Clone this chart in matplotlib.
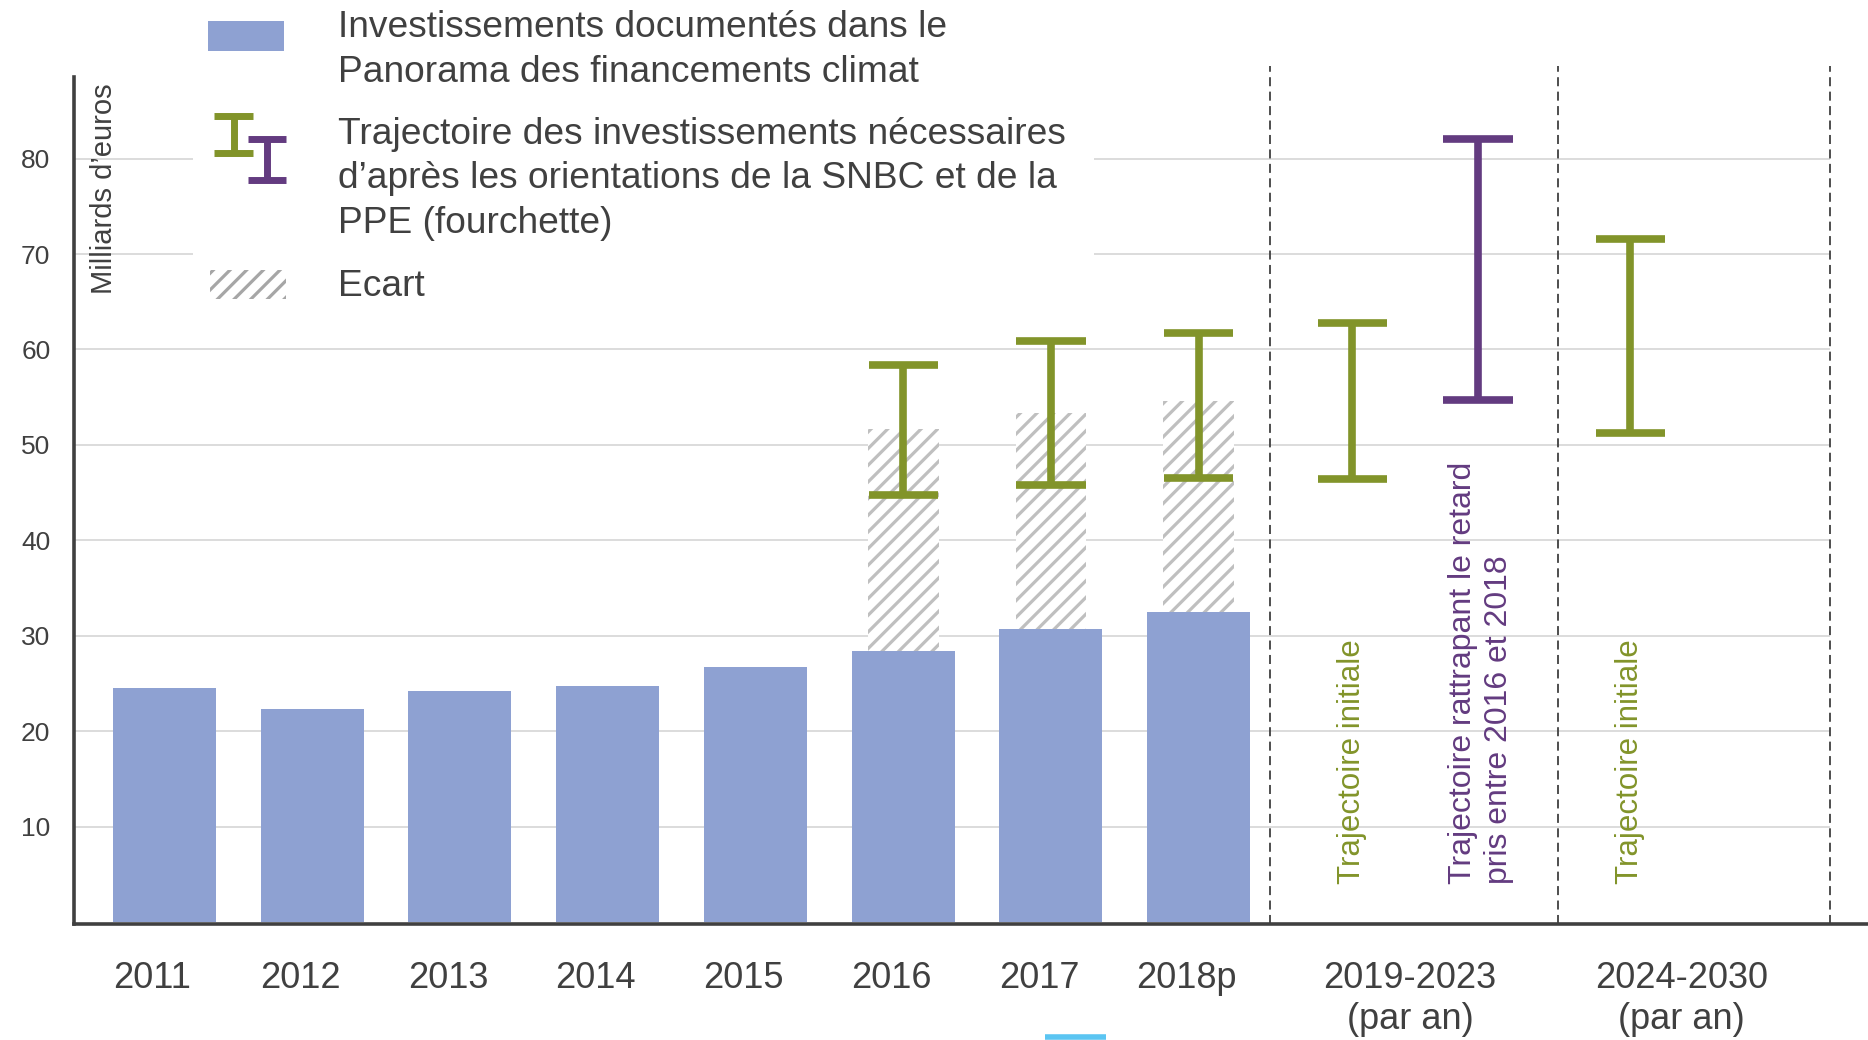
import numpy as np
import matplotlib
matplotlib.use("Agg")
from matplotlib import pyplot as plt
from matplotlib.patches import Rectangle
from matplotlib.lines import Line2D
from matplotlib.transforms import ScaledTranslation

plt.rcParams['font.family'] = ['Liberation Sans', 'DejaVu Sans']
plt.rcParams['hatch.color'] = '#BFBFBF'
plt.rcParams['hatch.linewidth'] = 2.3

# données
annees = ['2011', '2012', '2013', '2014', '2015', '2016', '2017', '2018p']
investissements = [24.5, 22.3, 24.2, 24.7, 26.7, 28.4, 30.7, 32.5]
annees_ecart = ['2016', '2017', '2018p']
ecart_haut = [51.7, 53.3, 54.6]
besoin_bas = [44.7, 45.8, 46.5]
besoin_haut = [58.4, 60.9, 61.7]
periodes = ['2019-2023\n(par an)', '2024-2030\n(par an)']
periode_bas = [46.4, 51.2]
periode_haut = [62.8, 71.6]
rattrapage_bas = [54.7]
rattrapage_haut = [82.0]
yticks = [10, 20, 30, 40, 50, 60, 70, 80]

bleu = '#8EA1D2'
vert = '#82942A'
violet = '#633B80'
gris = '#404040'
W, H = 1868, 1040

fig = plt.figure(figsize=(W / 100, H / 100), dpi=100)
ax = fig.add_axes([74 / W, 1 - 924 / H, 1 - 74 / W, (924 - 66) / H])
ax.set_xlim(-0.612, 11.53)
ax.set_ylim(-0.2, 89.7)

x = np.arange(len(annees))
ax.bar(x, investissements, width=0.697, color=bleu, zorder=3)

x_ecart = [annees.index(a) for a in annees_ecart]
inv_ecart = [investissements[i] for i in x_ecart]
ax.bar(x_ecart, np.array(ecart_haut) - np.array(inv_ecart), bottom=inv_ecart, width=0.479,
       color='white', hatch='//', edgecolor='#BFBFBF', linewidth=0, zorder=2)


def fourchette(xs, bas, haut, color):
    ax.vlines(xs, bas, haut, color=color, lw=5.5, zorder=4)
    xs = np.array(xs, dtype=float)
    ax.hlines(bas, xs - 0.234, xs + 0.234, color=color, lw=5.5, zorder=4)
    ax.hlines(haut, xs - 0.234, xs + 0.234, color=color, lw=5.5, zorder=4)


fourchette(x_ecart, besoin_bas, besoin_haut, vert)
x_per_vert = [8.04, 9.92]
x_per_violet = [8.89]
fourchette(x_per_vert, periode_bas, periode_haut, vert)
fourchette(x_per_violet, rattrapage_bas, rattrapage_haut, violet)

# séparateurs
for xv in [7.48, 9.43, 11.27]:
    ax.axvline(xv, color=gris, lw=1.3, linestyle=(0, (5, 3)), zorder=1)

# grille
ax.hlines(yticks, -0.612, 11.27, color='#D9D9D9', lw=1.3, zorder=0)

# textes verticaux
for xt in x_per_vert:
    ax.text(xt, 4, 'Trajectoire initiale', rotation=90, ha='center', va='bottom',
            fontsize=22.5, color=vert, zorder=5)
ax.text(x_per_violet[0] + 0.02, 4, 'Trajectoire rattrapant le retard\npris entre 2016 et 2018',
        rotation=90, ha='center', va='bottom', multialignment='left', fontsize=23,
        color=violet, linespacing=1.25, zorder=5)

# axes
ax.set_xticks(list(x) + [8.43, 10.27], annees + periodes)
ax.set_yticks(yticks)
ax.tick_params(axis='x', length=0, pad=27, labelsize=26, labelcolor=gris)
ax.tick_params(axis='y', length=0, pad=17, labelsize=19, labelcolor=gris)
decalage = ScaledTranslation(-0.12, 0, fig.dpi_scale_trans)
for lab in ax.get_xticklabels()[:len(annees)]:
    lab.set_transform(lab.get_transform() + decalage)
for s in ['top', 'right']:
    ax.spines[s].set_visible(False)
for s in ['left', 'bottom']:
    ax.spines[s].set_color(gris)
    ax.spines[s].set_linewidth(2.6)
ax.spines['left'].set_bounds(-0.2, 88.5)

fig.text(104 / W, 1 - 83 / H, "Milliards d’euros", rotation=90, ha='center', va='top',
         fontsize=21, color=gris)

# légende
def fx(px):
    return px / W


def fy(py):
    return 1 - py / H


fig.add_artist(Rectangle((fx(193), fy(305)), fx(1094) - fx(193), fy(0) - fy(305),
                         transform=fig.transFigure, facecolor='white', edgecolor='none', zorder=5))
fig.add_artist(Rectangle((fx(208), fy(51)), fx(284) - fx(208), fy(21) - fy(51),
                         transform=fig.transFigure, facecolor=bleu, edgecolor='none', zorder=6))
fig.add_artist(Rectangle((fx(210), fy(299)), fx(286) - fx(210), fy(270) - fy(299),
                         transform=fig.transFigure, facecolor='white', hatch='//',
                         edgecolor='#A6A6A6', linewidth=0, zorder=6))
for (x0, x1, y0, y1, c) in [(214, 253, 116, 153, vert), (248, 286, 139, 180, violet)]:
    xm = (x0 + x1) / 2
    for seg in [([x0, x1], [y0, y0]), ([x0, x1], [y1, y1]), ([xm, xm], [y0, y1])]:
        fig.add_artist(Line2D([fx(v) for v in seg[0]], [fy(v) for v in seg[1]],
                              transform=fig.transFigure, color=c, lw=5, zorder=6,
                              solid_capstyle='butt'))

fig.text(fx(338), fy(50), 'Investissements documentés dans le\nPanorama des financements climat',
         ha='left', va='center', fontsize=26.7, color=gris, linespacing=1.38, zorder=7)
fig.text(fx(338), fy(179), 'Trajectoire des investissements nécessaires\n'
         'd’après les orientations de la SNBC et de la\nPPE (fourchette)',
         ha='left', va='center', fontsize=26.7, color=gris, linespacing=1.34, zorder=7)
fig.text(fx(338), fy(286), 'Ecart', ha='left', va='center', fontsize=26.7, color=gris, zorder=7)

fig.add_artist(Line2D([fx(1045), fx(1106)], [fy(1037), fy(1037)], transform=fig.transFigure,
                      color='#5BC5F2', lw=4, solid_capstyle='butt'))

plt.savefig('out.png', dpi=100)
